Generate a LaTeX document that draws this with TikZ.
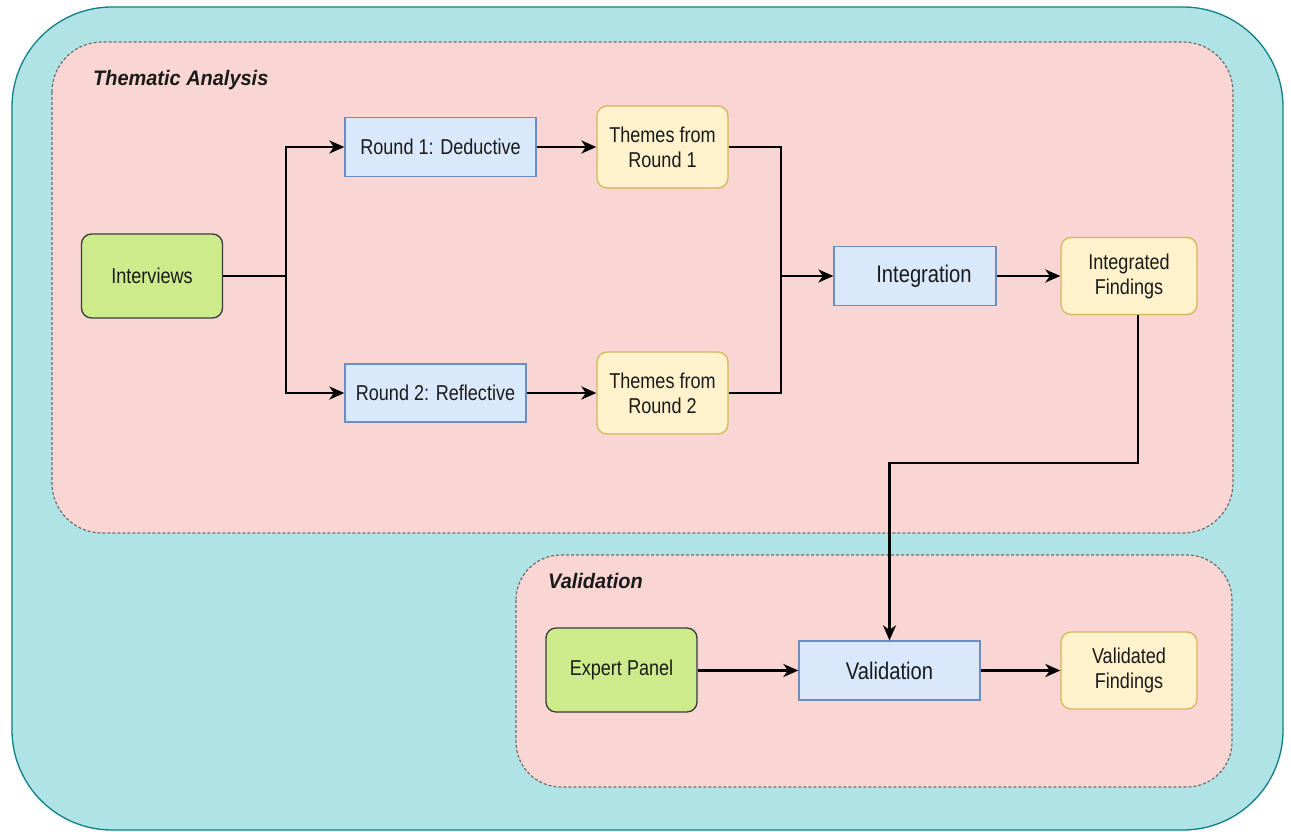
\documentclass[tikz,border=0pt]{standalone}
\usepackage{fontspec}
\setmainfont{Liberation Sans}[FakeStretch=0.84]
\newfontfamily\titlefont{Liberation Sans}[FakeStretch=0.95]
\usetikzlibrary{arrows.meta}

\definecolor{outerfill}{HTML}{B0E3E6}
\definecolor{outerline}{HTML}{0E8088}
\definecolor{groupfill}{HTML}{F9D6D3}
\definecolor{groupline}{HTML}{6E6E6E}
\definecolor{procfill}{HTML}{DAE8FC}
\definecolor{procline}{HTML}{6C8EBF}
\definecolor{resfill}{HTML}{FFF2CC}
\definecolor{resline}{HTML}{D6B656}
\definecolor{srcfill}{HTML}{CDEB8B}
\definecolor{srcline}{HTML}{36393D}
\definecolor{ink}{HTML}{1A1A1A}

\tikzset{
  base/.style={draw, line width=1.3pt, inner sep=0pt, align=center,
    font=\fontsize{21.5}{25}\selectfont, text=ink},
  source/.style={base, fill=srcfill, draw=srcline, rounded corners=10pt},
  process/.style={base, fill=procfill, draw=procline},
  result/.style={base, fill=resfill, draw=resline, rounded corners=10pt},
  bigtext/.style={font=\fontsize{24}{26}\selectfont},
  group/.style={fill=groupfill, draw=groupline, line width=1.2pt,
    dash pattern=on 3pt off 2pt, rounded corners=50pt},
  flow/.style={line width=2.8pt, -{Stealth[length=15pt,width=13pt,inset=4.5pt]}},
  link/.style={line width=2.8pt},
  title/.style={font=\titlefont\fontsize{21}{24}\selectfont\bfseries\itshape,
    anchor=west, text=ink, inner sep=0pt},
}

\begin{document}
\begin{tikzpicture}[x=1pt,y=-1pt]
\useasboundingbox (0,0) rectangle (1291,832);
\fill[white] (0,0) rectangle (1291,832);

% outer frame and the two groups
\draw[fill=outerfill, draw=outerline, line width=1.3pt, rounded corners=100pt]
  (12,7) rectangle (1283,830);
\draw[group] (52,42) rectangle (1233,533);
\draw[group, rounded corners=45pt] (516,555) rectangle (1232,787);
\node[title] (thematic) at (93,80) {Thematic Analysis};
\node[title] (validgroup) at (548,581) {Validation};

% thematic analysis
\node[source, minimum width=141pt, minimum height=84pt] (int) at (152,276) {Interviews};
\node[process, minimum width=191pt, minimum height=59pt] (r1) at (440.5,147) {Round 1: Deductive};
\node[process, minimum width=181pt, minimum height=58pt] (r2) at (435.5,393) {Round 2: Reflective};
\node[result, minimum width=131pt, minimum height=82pt] (th1) at (662.5,147) {Themes from\\Round 1};
\node[result, minimum width=131pt, minimum height=82pt] (th2) at (662.5,393) {Themes from\\Round 2};
\node[process, bigtext, minimum width=162pt, minimum height=59pt] (integ) at (915,276) {\hspace*{18pt}Integration};
\node[result, minimum width=136pt, minimum height=77pt] (intf) at (1129,276) {Integrated\\Findings};

% validation
\node[source, minimum width=151pt, minimum height=84pt] (exp) at (621.5,670) {Expert Panel};
\node[process, bigtext, minimum width=181pt, minimum height=59pt] (val) at (889.5,670.5) {Validation};
\node[result, minimum width=136pt, minimum height=77pt] (valf) at (1129,670.5) {Validated\\Findings};

% connectors
\coordinate (split) at (286,276);
\coordinate (merge) at (781,276);
\coordinate (drop) at (1138,463);

\draw[link] (int.east) -- (split);
\draw[flow] (split) |- (r1.west);
\draw[flow] (split) |- (r2.west);
\draw[flow] (r1.east) -- (r1.east -| th1.west);
\draw[flow] (r2.east) -- (r2.east -| th2.west);
\draw[link] (th1.east) -| (merge);
\draw[link] (th2.east) -| (merge);
\draw[flow] (merge) -- (integ.west);
\draw[flow] (integ.east) -- (integ.east -| intf.west);
\draw[flow] (intf.south -| drop) -- (drop) -| (val.north);
\draw[flow] (exp.east |- val.west) -- (val.west);
\draw[flow] (val.east) -- (val.east -| valf.west);
\end{tikzpicture}
\end{document}
